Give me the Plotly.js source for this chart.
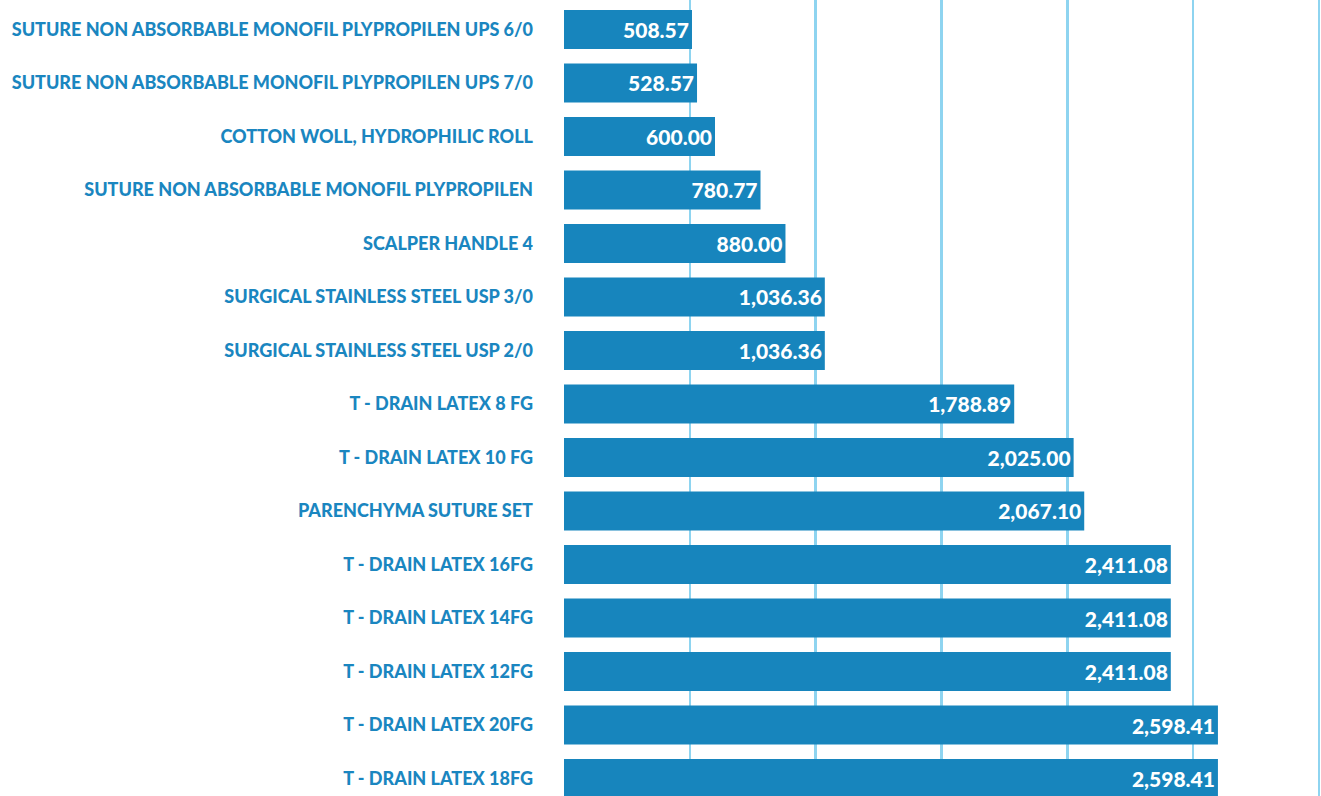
<!DOCTYPE html>
<html>
<head>
<meta charset="utf-8">
<script src="https://cdn.plot.ly/plotly-3.0.1.min.js"></script>
<style>html,body{margin:0;padding:0;background:#fff;}#chart{width:1321px;height:796px;}</style>
</head>
<body>
<div id="chart"></div>
<script>
const categories = [
  "SUTURE NON ABSORBABLE MONOFIL PLYPROPILEN UPS 6/0",
  "SUTURE NON ABSORBABLE MONOFIL PLYPROPILEN UPS 7/0",
  "COTTON WOLL, HYDROPHILIC ROLL",
  "SUTURE NON ABSORBABLE MONOFIL PLYPROPILEN",
  "SCALPER HANDLE 4",
  "SURGICAL STAINLESS STEEL USP 3/0",
  "SURGICAL STAINLESS STEEL USP 2/0",
  "T - DRAIN LATEX 8 FG",
  "T - DRAIN LATEX 10 FG",
  "PARENCHYMA SUTURE SET",
  "T - DRAIN LATEX 16FG",
  "T - DRAIN LATEX 14FG",
  "T - DRAIN LATEX 12FG",
  "T - DRAIN LATEX 20FG",
  "T - DRAIN LATEX 18FG"
];
const values = [508.57, 528.57, 600.00, 780.77, 880.00, 1036.36, 1036.36, 1788.89, 2025.00, 2067.10, 2411.08, 2411.08, 2411.08, 2598.41, 2598.41];

const trace = {
  type: 'bar',
  orientation: 'h',
  y: categories,
  x: values,
  marker: {color: '#1785bd'},
  texttemplate: '%{x:,.2f}',
  textposition: 'inside',
  insidetextanchor: 'end',
  textangle: 0,
  constraintext: 'none',
  textfont: {family: 'Lato', size: 21, color: '#ffffff', weight: 900},
  hoverinfo: 'none'
};

const layout = {
  width: 1321, height: 796,
  margin: {l: 564, r: 0, t: 0, b: 0},
  paper_bgcolor: '#ffffff', plot_bgcolor: '#ffffff',
  bargap: 0.27,
  showlegend: false,
  xaxis: {
    range: [0, 3007.9],
    dtick: 500,
    showgrid: true,
    gridcolor: '#8ed4f0',
    gridwidth: 2.5,
    zeroline: false,
    showticklabels: false,
    showline: false,
    layer: 'below traces'
  },
  yaxis: {
    type: 'category',
    range: [14.327, -0.551],
    showgrid: false,
    zeroline: false,
    showline: false,
    ticks: '',
    ticklabelstandoff: 30,
    tickfont: {family: 'Lato', size: 18, color: '#1a86c0', weight: 900}
  }
};

Plotly.newPlot('chart', [trace], layout, {displayModeBar: false, staticPlot: true});
</script>
</body>
</html>
